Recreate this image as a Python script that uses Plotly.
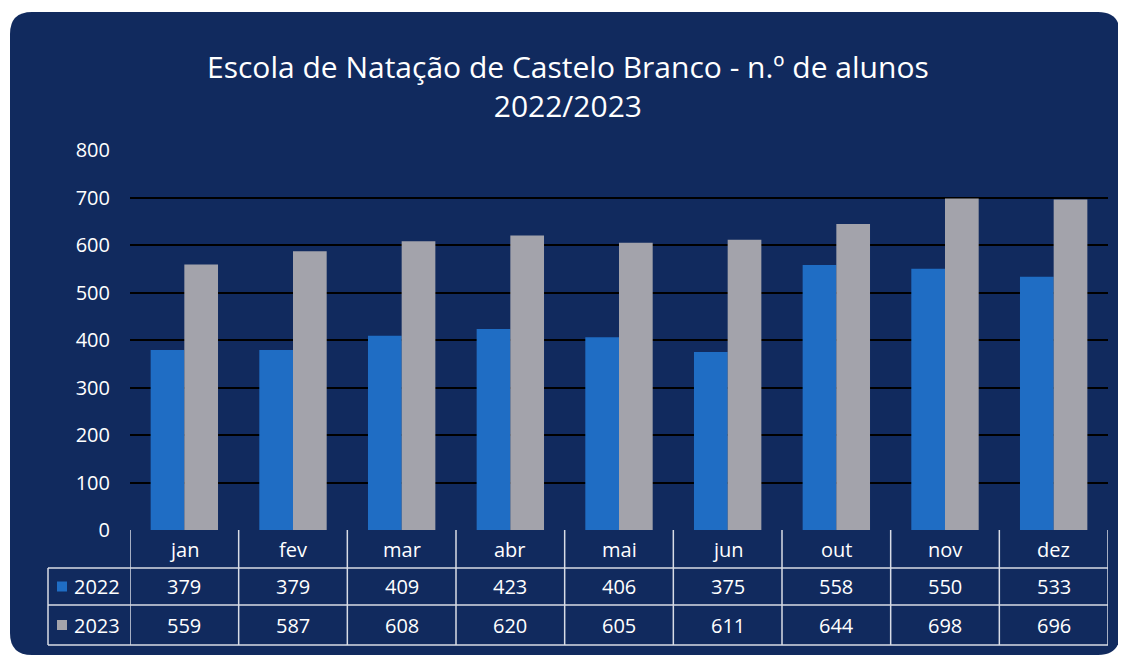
import plotly.graph_objects as go

months = ["jan", "fev", "mar", "abr", "mai", "jun", "out", "nov", "dez"]
alunos_2022 = [379, 379, 409, 423, 406, 375, 558, 550, 533]
alunos_2023 = [559, 587, 608, 620, 605, 611, 644, 698, 696]
series_names = ["2022", "2023"]
y_ticks = [0, 100, 200, 300, 400, 500, 600, 700, 800]

OFF = 8  # page body margin
FW, FH = 1118, 656
NAVY = "#112a5e"
BLUE = "#1f6dc4"
GRAY = "#a3a3ab"
FONT = "Open Sans"

def px(x):
    return (x - OFF) / FW

def py(y):
    return 1 - (y - OFF) / FH

fig = go.Figure()
fig.add_trace(go.Bar(x=months, y=alunos_2022, name=series_names[0], marker=dict(color=BLUE, line=dict(width=0))))
fig.add_trace(go.Bar(x=months, y=alunos_2023, name=series_names[1], marker=dict(color=GRAY, line=dict(width=0))))

shapes = []
# navy rounded card
x0, y0, x1, y1, r = 10, 12, 1120, 655, 22
path = (f"M {px(x0+r)},{py(y0)} L {px(x1-r)},{py(y0)} "
        f"Q {px(x1)},{py(y0)} {px(x1)},{py(y0+r)} L {px(x1)},{py(y1-r)} "
        f"Q {px(x1)},{py(y1)} {px(x1-r)},{py(y1)} L {px(x0+r)},{py(y1)} "
        f"Q {px(x0)},{py(y1)} {px(x0)},{py(y1-r)} L {px(x0)},{py(y0+r)} "
        f"Q {px(x0)},{py(y0)} {px(x0+r)},{py(y0)} Z")
shapes.append(dict(type="path", path=path, xref="paper", yref="paper",
                   fillcolor=NAVY, line=dict(width=0), layer="below"))

# data table grid
n = len(months)
row_y = [530, 568, 605, 645]
line_style = dict(color="#d8dce6", width=1.5)
for i in range(n + 1):
    shapes.append(dict(type="line", xref="x", yref="paper", x0=i - 0.5, x1=i - 0.5,
                       y0=py(row_y[0]), y1=py(row_y[-1]), line=line_style))
for k, yy in enumerate(row_y):
    if k == 0:
        continue
    shapes.append(dict(type="line", xref="x", yref="paper", x0=-0.5, x1=n - 0.5,
                       y0=py(yy), y1=py(yy), line=line_style))
left_x = 48
shapes.append(dict(type="line", xref="paper", yref="paper", x0=px(left_x), x1=px(left_x),
                   y0=py(row_y[1]), y1=py(row_y[3]), line=line_style))
for yy in row_y[1:]:
    shapes.append(dict(type="line", xref="paper", yref="paper", x0=px(left_x), x1=px(130),
                       y0=py(yy), y1=py(yy), line=line_style))
for k, col in enumerate([BLUE, GRAY]):
    yc = (row_y[k + 1] + row_y[k + 2]) / 2
    shapes.append(dict(type="rect", xref="paper", yref="paper", x0=px(57), x1=px(67),
                       y0=py(yc + 5), y1=py(yc - 5), fillcolor=col, line=dict(width=0)))

annotations = []
tfont = dict(family=FONT, size=20, color="white")
for i, m in enumerate(months):
    annotations.append(dict(x=i, y=py((row_y[0] + row_y[1]) / 2), xref="x", yref="paper",
                            text=m, showarrow=False, font=tfont, yanchor="middle"))
    annotations.append(dict(x=i, y=py((row_y[1] + row_y[2]) / 2), xref="x", yref="paper",
                            text=str(alunos_2022[i]), showarrow=False, font=tfont, yanchor="middle"))
    annotations.append(dict(x=i, y=py((row_y[2] + row_y[3]) / 2), xref="x", yref="paper",
                            text=str(alunos_2023[i]), showarrow=False, font=tfont, yanchor="middle"))
for k, nm in enumerate(series_names):
    yc = (row_y[k + 1] + row_y[k + 2]) / 2
    annotations.append(dict(x=px(72), y=py(yc), xref="paper", yref="paper", xanchor="left",
                            yanchor="middle", text=nm, showarrow=False, font=tfont))

# title
annotations.append(dict(x=px(568), y=py(86), xref="paper", yref="paper", yanchor="middle",
                        text="Escola de Natação de Castelo Branco - n.º de alunos<br>2022/2023",
                        showarrow=False, font=dict(family=FONT, size=30, color="white"),
                        align="center"))

fig.update_layout(
    width=FW, height=FH,
    margin=dict(l=0, r=0, t=0, b=0, pad=0),
    paper_bgcolor="white",
    plot_bgcolor="white",
    showlegend=False,
    barmode="group",
    bargap=0.38,
    bargroupgap=0,
    shapes=shapes,
    annotations=annotations,
    xaxis=dict(domain=[px(130), px(1108)], showticklabels=False, showgrid=False,
               zeroline=False, showline=False, range=[-0.5, n - 0.5], fixedrange=True,
               automargin=False),
    yaxis=dict(domain=[py(530), py(150)], range=[0, 800], tickvals=y_ticks,
               showgrid=True, gridcolor="black", gridwidth=1.5, zeroline=False,
               ticks="outside", ticklen=15, tickcolor="rgba(0,0,0,0)",
               tickfont=dict(family=FONT, size=20, color="white"), fixedrange=True,
               automargin=False),
)

fig.write_html("out.html")
